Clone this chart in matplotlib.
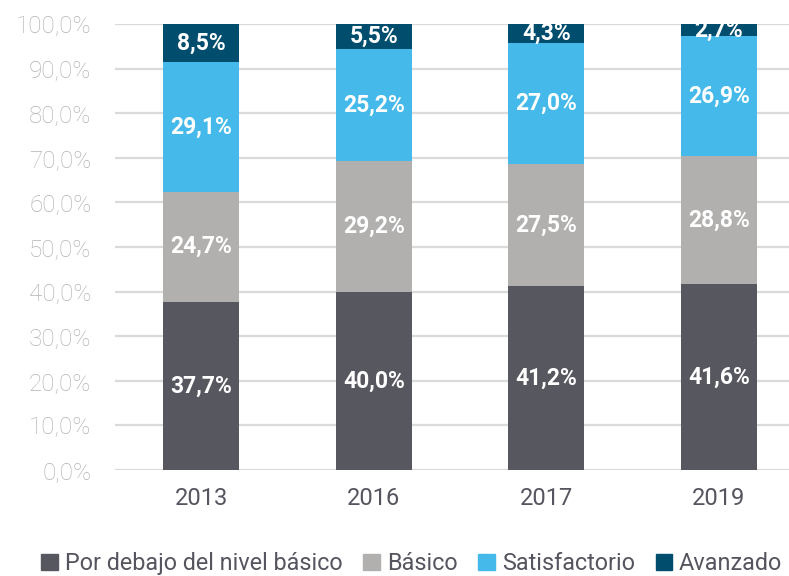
import matplotlib
matplotlib.use('Agg')
import numpy as np
from matplotlib import pyplot as plt
from matplotlib.patches import Patch

years = ['2013', '2016', '2017', '2019']
categories = ['Por debajo del nivel básico', 'Básico', 'Satisfactorio', 'Avanzado']
por_debajo = [37.7, 40.0, 41.2, 41.6]
basico = [24.7, 29.2, 27.5, 28.8]
satisfactorio = [29.1, 25.2, 27.0, 26.9]
avanzado = [8.5, 5.5, 4.3, 2.7]
colors = ['#57575f', '#b1b0af', '#45b9e9', '#004d6e']

series = [por_debajo, basico, satisfactorio, avanzado]

fig = plt.figure(figsize=(7.89, 5.76), dpi=100)
ax = fig.add_axes([115 / 789, 106 / 576, 690 / 789, 446 / 576])

x = np.arange(len(years))
bottom = np.zeros(len(years))
for vals, col in zip(series, colors):
    bars = ax.bar(x, vals, width=0.44, bottom=bottom, color=col, zorder=3)
    for xi, b, v in zip(x, bottom, vals):
        ax.text(xi, b + v / 2, f'{v:.1f}%'.replace('.', ','), ha='center', va='center',
                color='white', fontsize=16.5, fontweight='bold', family='Roboto', zorder=4)
    bottom += np.array(vals)

ax.set_xlim(-0.5, 3.5)
ax.set_ylim(0, 100)
yt = np.arange(0, 101, 10)
ax.set_yticks(yt)
ax.set_yticklabels([f'{v:.1f}%'.replace('.', ',') for v in yt], color='#b3b3b3',
                   fontsize=17.5, family='Roboto', fontweight='light')
ax.set_xticks(x)
ax.set_xticklabels(years, color='#55555f', fontsize=17, family='Roboto')
ax.tick_params(length=0, axis='y', pad=17)
ax.tick_params(length=0, axis='x', pad=12)
ax.grid(axis='y', color='#dadada', linewidth=1.6, zorder=0)
ax.set_axisbelow(True)
for s in ax.spines.values():
    s.set_visible(False)
ax.patch.set_alpha(0)

handles = [Patch(color=c, label=l) for c, l in zip(colors, categories)]
fig.legend(handles=handles, loc='lower center', bbox_to_anchor=(0.522, -0.035), ncol=4,
           frameon=False, handlelength=0.7, handleheight=0.7, handletextpad=0.3,
           columnspacing=0.9, prop={'family': 'Roboto', 'size': 16.8}, labelcolor='#55555f')

fig.savefig('out.png', dpi=100)
